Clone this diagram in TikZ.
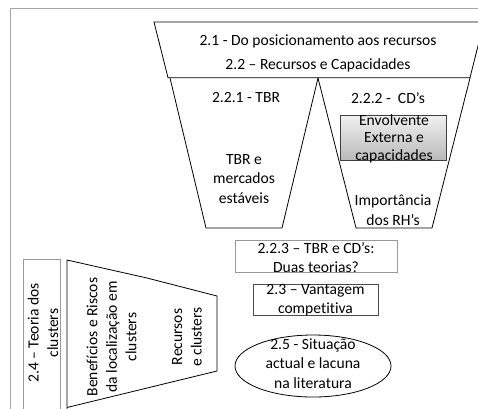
\documentclass[tikz,border=0pt]{standalone}
\usepackage{fontspec}
\setmainfont{Carlito}[Ligatures={TeX,NoCommon}]
\begin{document}
\begin{tikzpicture}[x=1pt,y=-1pt,
  txt/.style={align=center,inner sep=0pt,font=\fontsize{15.6}{19.5}\selectfont},
  thin line/.style={line width=0.8pt,black},
  graybox/.style={draw=gray!80,line width=0.8pt}]
\useasboundingbox (0,0) rectangle (478,408);
\clip (0,0) rectangle (478,408);

% page frame
\draw[gray!70,line width=0.8pt] (10,410) -- (10,8) -- (480,8);

% upper funnel
\draw[thin line] (154,22) -- (484,22) -- (470,77.7) -- (168,77.7) -- cycle;
\draw[thin line] (170,78) -- (206,228) -- (282,228) -- (318,78);
\draw[thin line] (318,78) -- (356,228) -- (432,228) -- (470,78);

\node[txt] (t21) at (318,41) {2.1 - Do posicionamento aos recursos};
\node[txt] (t22) at (318,65.7) {2.2 – Recursos e Capacidades};
\node[txt] (t221) at (246,97.7) {2.2.1 - TBR};
\node[txt] (t222) at (388,97.7) {2.2.2 -\ \ CD’s};
\node[txt] (tbr) at (244,179) {TBR e\\mercados\\estáveis};
\node[txt] (rh) at (393,210.3) {Importância\\dos RH’s};

% shaded box
\draw[draw=gray!50!black,line width=0.8pt,top color=gray!12,bottom color=gray!55]
  (340.7,115.7) rectangle (446.7,160.7);
\node[txt,font=\fontsize{15.6}{17.5}\selectfont] (env) at (394,138.5) {Envolvente\\Externa e\\capacidades};

% boxes below
\draw[graybox] (235,240.7) rectangle (397,272);
\node[txt,font=\fontsize{15.6}{18.7}\selectfont] (t223) at (316,257.3) {2.2.3 – TBR e CD’s:\\Duas teorias?};
\draw[graybox,draw=gray!60!black] (253,284) rectangle (378,315);
\node[txt,font=\fontsize{15.6}{19}\selectfont] (t23) at (315.5,300.5) {2.3 – Vantagem\\competitiva};
\draw[thin line] (313,366) ellipse [x radius=78,y radius=31];
\node[txt] (t25) at (313,363.3) {2.5 - Situação\\actual e lacuna\\na literatura};

% clusters
\draw[graybox] (23,420) -- (23,259) -- (60.7,259) -- (60.7,420);
\node[txt,rotate=90] (t24) at (43,333) {2.4 – Teoria dos\\clusters};
\draw[thin line] (67,420) -- (67,260) -- (147,278) -- (217,296) -- (217,371) -- (67,407.5);
\node[txt,rotate=90] (ben) at (111.5,337) {Benefícios e Riscos\\da localização em\\clusters};
\node[txt,rotate=90] (rec) at (187,337) {Recursos\\e clusters};
\end{tikzpicture}
\end{document}
